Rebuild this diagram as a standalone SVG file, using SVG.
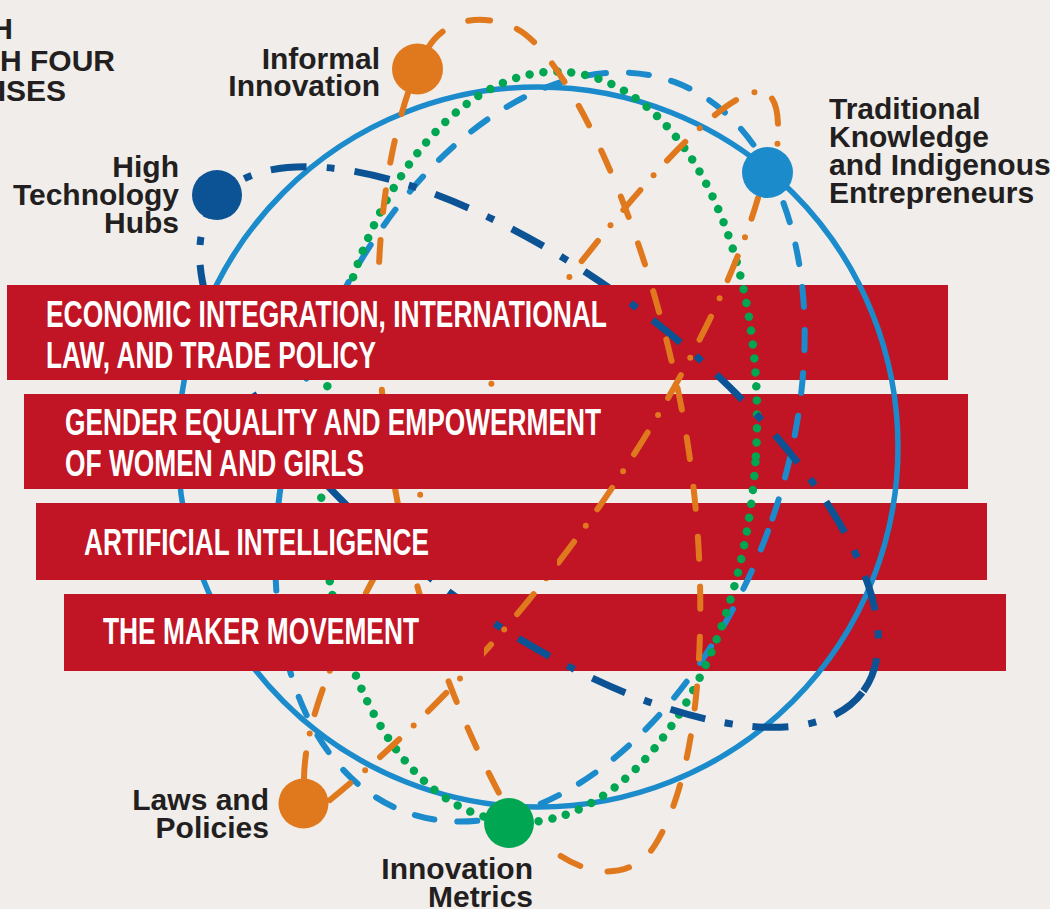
<svg xmlns="http://www.w3.org/2000/svg" width="1050" height="909" viewBox="0 0 1050 909">
<style>
.bg{fill:#f0edea}
.ban{fill:#c11424}
.lbl{font-family:"Liberation Sans",Arial,sans-serif;font-weight:700;font-size:30px;fill:#231f20}
.bt{font-family:"Liberation Sans",Arial,sans-serif;font-weight:700;font-size:37px;fill:#ffffff}
.c-solid{fill:none;stroke:#1b8bcb;stroke-width:5.5}
.c-bdash{fill:none;stroke:#1b8bcb;stroke-width:6;stroke-dasharray:20 23;stroke-linecap:round}
.c-green{fill:none;stroke:#00a651;stroke-width:8.5;stroke-dasharray:0 14;stroke-linecap:round}
.c-dark{fill:none;stroke:#0b5394;stroke-width:7;stroke-dasharray:36 20 8 20}
.c-odash{fill:none;stroke:#e0791e;stroke-width:6;stroke-dasharray:22 28;stroke-linecap:round}
.c-odot{fill:none;stroke:#e0791e;stroke-width:6;stroke-dasharray:26 20 0 20;stroke-linecap:round}
</style>
<rect class="bg" x="0" y="0" width="1050" height="909"/>

<g id="title" class="lbl">
<text x="13" y="39" text-anchor="end">H</text>
<text x="115" y="71" text-anchor="end">H FOUR</text>
<text x="66" y="101" text-anchor="end">ISES</text>
</g>

<g id="banner-backs">
<rect class="ban" x="7" y="285" width="941" height="95"/>
<rect class="ban" x="24" y="394" width="944" height="95"/>
<rect class="ban" x="36" y="503" width="951" height="77"/>
<rect class="ban" x="64" y="594" width="942" height="77"/>
</g>

<g id="connectors">
<circle class="c-solid" cx="538" cy="447" r="360"/>
<ellipse class="c-bdash" cx="540" cy="447" rx="243" ry="389" transform="rotate(20.2 540 447)"/>
<ellipse class="c-green" cx="539" cy="447" rx="217" ry="376" transform="rotate(4 539 447)"/>
<ellipse class="c-dark" cx="539" cy="447" rx="406" ry="170" transform="rotate(37.2 539 447)"/>
<path class="c-odash" d="M408,93 C355,250 365,540 500,795"/>
<path class="c-odash" d="M428,48 C445,20 480,12 515,28 C560,48 640,200 680,400 C712,560 708,760 655,845 C635,877 590,885 540,840"/>
<path class="c-odot" d="M330,800 C575,600 720,330 758,198"/>
<path class="c-odot" d="M304,779 C305,700 360,600 420,495 C480,390 620,200 700,128 C725,105 748,90 762,92 C780,95 779,125 777,150"/>
</g>

<g id="banner-economic">
<rect class="ban" x="7" y="285" width="613" height="95"/>
<text class="bt" x="46" y="327" textLength="561" lengthAdjust="spacingAndGlyphs">ECONOMIC INTEGRATION, INTERNATIONAL</text>
<text class="bt" x="46" y="368" textLength="330" lengthAdjust="spacingAndGlyphs">LAW, AND TRADE POLICY</text>
</g>
<g id="banner-gender">
<rect class="ban" x="24" y="394" width="564" height="95"/>
<text class="bt" x="65" y="435" textLength="536" lengthAdjust="spacingAndGlyphs">GENDER EQUALITY AND EMPOWERMENT</text>
<text class="bt" x="65" y="476" textLength="299" lengthAdjust="spacingAndGlyphs">OF WOMEN AND GIRLS</text>
</g>
<g id="banner-ai">
<rect class="ban" x="36" y="503" width="521" height="77"/>
<text class="bt" x="84" y="555" textLength="345" lengthAdjust="spacingAndGlyphs">ARTIFICIAL INTELLIGENCE</text>
</g>
<g id="banner-maker">
<rect class="ban" x="64" y="594" width="420" height="77"/>
<text class="bt" x="103" y="644" textLength="316" lengthAdjust="spacingAndGlyphs">THE MAKER MOVEMENT</text>
</g>

<g id="node-informal">
<circle cx="417.5" cy="69" r="25.5" fill="#e0791e"/>
<text class="lbl" x="380" y="69" text-anchor="end">Informal</text>
<text class="lbl" x="380" y="96" text-anchor="end">Innovation</text>
</g>
<g id="node-hightech">
<circle cx="217" cy="195" r="25" fill="#0b5394"/>
<text class="lbl" x="179" y="177" text-anchor="end">High</text>
<text class="lbl" x="179" y="205" text-anchor="end">Technology</text>
<text class="lbl" x="179" y="233" text-anchor="end">Hubs</text>
</g>
<g id="node-traditional">
<circle cx="767.5" cy="172.5" r="25.5" fill="#1b8bcb"/>
<text class="lbl" x="829" y="119">Traditional</text>
<text class="lbl" x="829" y="147">Knowledge</text>
<text class="lbl" x="829" y="175">and Indigenous</text>
<text class="lbl" x="829" y="203">Entrepreneurs</text>
</g>
<g id="node-laws">
<circle cx="303.5" cy="803.5" r="25" fill="#e0791e"/>
<text class="lbl" x="269" y="810" text-anchor="end">Laws and</text>
<text class="lbl" x="269" y="838" text-anchor="end">Policies</text>
</g>
<g id="node-metrics">
<circle cx="509" cy="823" r="25" fill="#00a651"/>
<text class="lbl" x="533" y="879" text-anchor="end">Innovation</text>
<text class="lbl" x="533" y="907" text-anchor="end">Metrics</text>
</g>
</svg>
